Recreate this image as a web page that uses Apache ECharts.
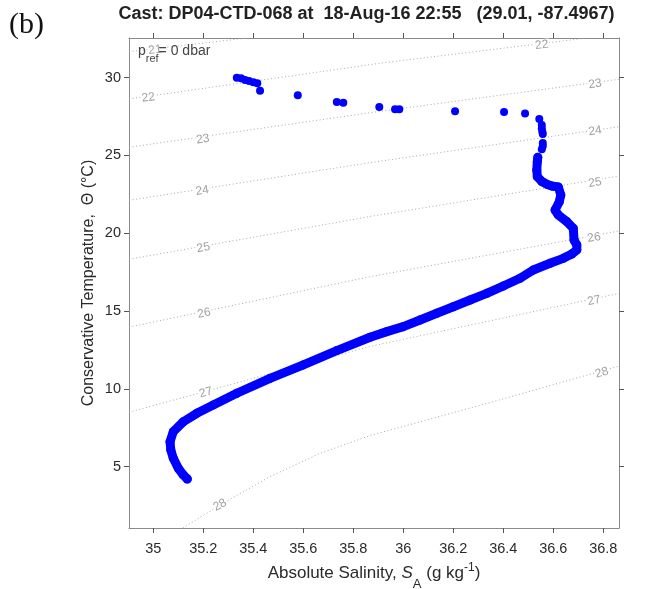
<!DOCTYPE html>
<html><head><meta charset="utf-8">
<script src="https://cdn.jsdelivr.net/npm/echarts@6/dist/echarts.min.js"></script>
<style>html,body{margin:0;padding:0;background:#fff}#c{width:650px;height:589px}</style>
</head><body><div id="c"></div>
<script>
// Tick labels
const xTicks = [35, 35.2, 35.4, 35.6, 35.8, 36, 36.2, 36.4, 36.6, 36.8];
const yTicks = [5, 10, 15, 20, 25, 30];

// Near-surface discrete points (Absolute Salinity, Conservative Temperature)
const surfaceSA = [35.334, 35.351, 35.367, 35.383, 35.400, 35.416, 35.427, 35.578, 35.734, 35.760, 35.904, 35.967, 35.984, 36.207, 36.403, 36.487, 36.544, 36.554, 36.554, 36.556, 36.558, 36.558, 36.558, 36.554];
const surfaceCT = [30.00, 29.96, 29.85, 29.79, 29.70, 29.64, 29.16, 28.87, 28.44, 28.39, 28.12, 27.97, 27.97, 27.84, 27.80, 27.70, 27.35, 26.96, 26.75, 26.53, 26.38, 25.80, 25.61, 25.40];

// Dense profile below
const profileSA = [36.538, 36.536, 36.534, 36.536, 36.554, 36.576, 36.594, 36.620, 36.630, 36.624, 36.607, 36.620, 36.654, 36.680, 36.683, 36.694, 36.694, 36.674, 36.640, 36.587, 36.520, 36.467, 36.400, 36.334, 36.267, 36.200, 36.134, 36.067, 36.000, 35.934, 35.867, 35.734, 35.600, 35.467, 35.334, 35.240, 35.174, 35.120, 35.080, 35.067, 35.070, 35.080, 35.100, 35.120, 35.136];
const profileCT = [24.88, 24.60, 24.07, 23.64, 23.33, 23.14, 23.04, 22.98, 22.46, 22.03, 21.50, 21.18, 20.75, 20.32, 19.57, 19.25, 18.93, 18.67, 18.39, 18.07, 17.64, 17.11, 16.61, 16.14, 15.71, 15.28, 14.86, 14.43, 14.00, 13.68, 13.32, 12.46, 11.54, 10.68, 9.72, 8.97, 8.43, 7.89, 7.25, 6.61, 6.07, 5.54, 4.90, 4.47, 4.21];

// Isopycnal (sigma0) contours: [SA, CT]
const sigma21 = [[34.903, 31.67], [35.375, 32.55]];
const sigma22 = [[34.903, 28.63], [35.907, 30.93], [36.734, 32.55]];
const sigma23 = [[34.903, 25.53], [35.867, 27.75], [36.863, 29.90]];
const sigma24 = [[34.903, 22.12], [35.867, 24.54], [36.863, 26.85]];
const sigma25 = [[34.903, 18.33], [35.867, 21.08], [36.863, 23.68]];
const sigma26 = [[34.903, 13.97], [35.867, 17.21], [36.863, 20.15]];
const sigma27 = [[34.903, 8.50], [35.867, 12.73], [36.863, 16.14]];
const sigma28 = [[35.118, 1.06], [35.267, 2.54], [35.467, 4.36], [35.667, 5.86], [35.867, 7.00], [36.36, 9.18], [36.863, 11.47]];

// Contour labels
const labelText = ['21', '22', '22', '23', '23', '24', '24', '25', '25', '26', '26', '27', '27', '28', '28'];
const labelSA = [35.007, 34.980, 36.554, 35.198, 36.767, 35.196, 36.767, 35.200, 36.767, 35.203, 36.763, 35.210, 36.763, 35.267, 36.794];
const labelCT = [31.78, 28.72, 32.10, 26.04, 29.60, 22.74, 26.57, 19.07, 23.25, 14.86, 19.72, 9.76, 15.67, 2.54, 11.04];
const labelAngle = [7, 8, 7, 8, 8, 9, 8, 10, 9, 12, 10, 15, 12, 28, 16];

const FONT = 'Liberation Sans, Arial, Helvetica, sans-serif';
const TXT = '#2a2a2a';
const chart = echarts.init(document.getElementById('c'), null, {renderer: 'canvas'});

const contours = [sigma21, sigma22, sigma23, sigma24, sigma25, sigma26, sigma27, sigma28];
const contourSeries = contours.map(c => ({
  type: 'line', data: c, showSymbol: false, symbol: 'none', silent: true, z: 1,
  lineStyle: {color: '#a8a8a8', width: 1, type: [1, 2.5]}, animation: false
}));

const X_MIN = 34.9028, X_MAX = 36.8628, Y_MIN = 1.06, Y_MAX = 32.551;
const axisLine = {show: true, onZero: false, lineStyle: {color: '#8a8a8a', width: 1}};
const tick = {show: true, inside: false, length: 5, lineStyle: {color: '#555', width: 1}};

chart.setOption({
  animation: false,
  backgroundColor: '#fff',
  grid: {left: 129, top: 38, width: 490, height: 490, containLabel: false, outerBoundsMode: 'none'},
  xAxis: [
    {type: 'value', position: 'bottom', min: X_MIN, max: X_MAX, splitLine: {show: false},
     axisLine: axisLine, axisTick: Object.assign({customValues: xTicks}, tick),
     axisLabel: {customValues: xTicks, color: TXT, fontSize: 14.5, fontFamily: FONT, margin: 13},
     name: '{n|Absolute Salinity, }{i|S}{sub|A}{n| (g kg}{sup|-1}{n|)}',
     nameLocation: 'middle', nameGap: 29, nameMoveOverlap: false,
     nameTextStyle: {color: TXT, fontFamily: FONT, rich: {
       n: {fontSize: 17, lineHeight: 32, fontFamily: FONT, color: TXT},
       i: {fontSize: 17, lineHeight: 32, fontStyle: 'italic', fontFamily: FONT, color: TXT},
       sub: {fontSize: 13, height: 10, verticalAlign: 'bottom', fontFamily: FONT, color: TXT},
       sup: {fontSize: 12, height: 22, verticalAlign: 'top', fontFamily: FONT, color: TXT}
     }}},
    {type: 'value', position: 'top', min: X_MIN, max: X_MAX, splitLine: {show: false},
     axisLine: axisLine, axisTick: Object.assign({customValues: xTicks}, tick),
     axisLabel: {show: false}}
  ],
  yAxis: [
    {type: 'value', position: 'left', min: Y_MIN, max: Y_MAX, splitLine: {show: false},
     axisLine: axisLine, axisTick: Object.assign({customValues: yTicks}, tick),
     axisLabel: {customValues: yTicks, color: TXT, fontSize: 14.5, fontFamily: FONT, margin: 8},
     name: 'Conservative Temperature,  \u0398 (\u00B0C)', nameLocation: 'middle', nameGap: 32, nameRotate: 90,
     nameMoveOverlap: false,
     nameTextStyle: {color: TXT, fontSize: 16, fontFamily: FONT}},
    {type: 'value', position: 'right', min: Y_MIN, max: Y_MAX, splitLine: {show: false},
     axisLine: axisLine, axisTick: Object.assign({customValues: yTicks}, tick),
     axisLabel: {show: false}}
  ],
  series: contourSeries.concat([
    {type: 'scatter', silent: true, z: 2, symbol: 'circle', symbolSize: 1,
     itemStyle: {color: 'rgba(0,0,0,0)'},
     data: labelText.map((t, i) => ({value: [labelSA[i], labelCT[i], t],
       label: {rotate: labelAngle[i]}})),
     label: {show: true, position: 'inside', formatter: p => p.value[2], color: '#8a8a8a',
       fontSize: 12, fontFamily: FONT, backgroundColor: '#fff', padding: [0, 1]}},
    {type: 'line', z: 5, silent: true, data: profileSA.map((s, i) => [s, profileCT[i]]),
     showSymbol: true, symbol: 'circle', symbolSize: 9,
     itemStyle: {color: '#0000ff'},
     lineStyle: {color: '#0000ff', width: 9, cap: 'round', join: 'round'}},
    {type: 'scatter', z: 6, silent: true, data: surfaceSA.map((s, i) => [s, surfaceCT[i]]),
     symbol: 'circle', symbolSize: 8, itemStyle: {color: '#0000ff', opacity: 1}}
  ]),
  graphic: [
    {type: 'text', left: 9, top: 10, z: 10,
     style: {text: '(b)', font: '30px "Liberation Serif", "DejaVu Serif", serif', fill: '#111'}},
    {type: 'text', x: 366.5, y: 14, z: 10,
     style: {text: 'Cast: DP04-CTD-068 at  18-Aug-16 22:55   (29.01, -87.4967)',
       font: 'bold 18px ' + FONT, fill: '#222', align: 'center', verticalAlign: 'middle'}},
    {type: 'text', x: 138, y: 51, z: 10,
     style: {text: '{p|p}{s|ref}{t|= 0 dbar}', verticalAlign: 'middle', align: 'left',
       rich: {
         p: {fontSize: 14, lineHeight: 26, fontFamily: FONT, fill: '#444'},
         s: {fontSize: 11, lineHeight: 12, verticalAlign: 'bottom', fontFamily: FONT, fill: '#444'},
         t: {fontSize: 14, lineHeight: 26, fontFamily: FONT, fill: '#444'}
       }}}
  ]
});
</script></body></html>
